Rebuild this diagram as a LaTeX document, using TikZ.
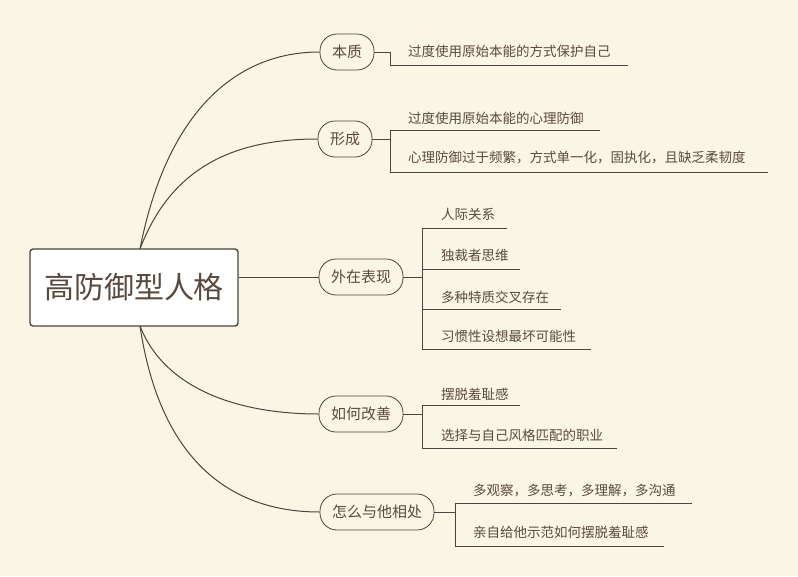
\documentclass[tikz,border=0pt]{standalone}
\usepackage{fontspec}
\setmainfont{Noto Sans CJK SC}
\definecolor{bg}{HTML}{FBF5E6}
\definecolor{ln}{HTML}{4A4540}
\definecolor{tx}{HTML}{5A4A3E}
\begin{document}
\begin{tikzpicture}[x=1pt,y=-1pt,
  pill/.style={draw=ln,line width=0.8pt,fill=bg,rounded corners=17pt,minimum height=36pt,inner xsep=12pt,font=\fontsize{15}{17}\selectfont,text=tx},
  leaf/.style={anchor=west,font=\fontsize{13.5}{15}\selectfont,text=tx,inner sep=0pt},
  conn/.style={draw=ln,line width=1pt},
  uline/.style={draw=ln,line width=0.7pt}]
\useasboundingbox[fill=bg] (0,0) rectangle (798,576);
\node[draw=ln,line width=1.4pt,fill=white,rounded corners=3pt,minimum width=208pt,minimum height=77pt,font=\fontsize{30}{34}\selectfont,text=tx] (root) at (134,287.5) {高防御型人格};
\node[pill] (b1) at (347,52) {本质};
\node[pill] (b2) at (345,139) {形成};
\node[pill] (b3) at (361,277) {外在表现};
\node[pill] (b4) at (361,414) {如何改善};
\node[pill] (b5) at (377,512) {怎么与他相处};
\coordinate (rt) at (140,249);
\coordinate (rb) at (140,326);
\draw[conn] (rt) .. controls (165,120) and (230,52) .. (b1.west);
\draw[conn] (rt) .. controls (170,170) and (230,139) .. (b2.west);
\draw[conn] (root.east|-b3) -- (b3.west);
\draw[conn] (rb) .. controls (165,390) and (240,414) .. (b4.west);
\draw[conn] (rb) .. controls (160,460) and (230,512) .. (b5.west);
% leaves 1
\node[leaf] (l11) at (408,51) {过度使用原始本能的方式保护自己};
\coordinate (j1) at (390,52);
\draw[conn] (b1.east) -- (j1) -- (390,65);
\draw[uline] (390,65) -- (628,65);
% leaves 2
\node[leaf] (l21) at (408,118) {过度使用原始本能的心理防御};
\node[leaf] (l22) at (408,158) {心理防御过于频繁，方式单一化，固执化，且缺乏柔韧度};
\coordinate (j2) at (390,139);
\draw[conn] (b2.east) -- (j2);
\draw[conn] (390,130) -- (390,172);
\draw[uline] (390,130) -- (600,130);
\draw[uline] (390,172) -- (768,172);
% leaves 3
\node[leaf] (l31) at (441,214) {人际关系};
\node[leaf] (l32) at (441,255) {独裁者思维};
\node[leaf] (l33) at (441,297) {多种特质交叉存在};
\node[leaf] (l34) at (441,336) {习惯性设想最坏可能性};
\coordinate (j3) at (422,277);
\draw[conn] (b3.east) -- (j3);
\draw[conn] (422,228) -- (422,349);
\draw[uline] (422,228) -- (507,228);
\draw[uline] (422,269) -- (520,269);
\draw[uline] (422,309) -- (561,309);
\draw[uline] (422,349) -- (591,349);
% leaves 4
\node[leaf] (l41) at (441,394) {摆脱羞耻感};
\node[leaf] (l42) at (441,435) {选择与自己风格匹配的职业};
\coordinate (j4) at (422,414);
\draw[conn] (b4.east) -- (j4);
\draw[conn] (422,405) -- (422,448);
\draw[uline] (422,405) -- (520,405);
\draw[uline] (422,448) -- (617,448);
% leaves 5
\node[leaf] (l51) at (473,491) {多观察，多思考，多理解，多沟通};
\node[leaf] (l52) at (473,532) {亲自给他示范如何摆脱羞耻感};
\coordinate (j5) at (455,512);
\draw[conn] (b5.east) -- (j5);
\draw[conn] (455,503) -- (455,546);
\draw[uline] (455,503) -- (692,503);
\draw[uline] (455,546) -- (664,546);
\end{tikzpicture}
\end{document}
